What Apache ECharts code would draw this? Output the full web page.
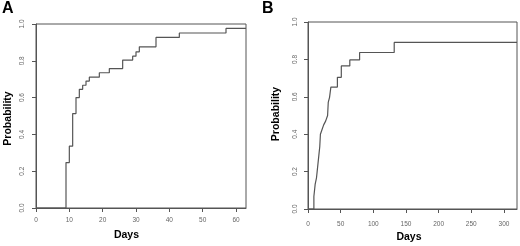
<!DOCTYPE html>
<html>
<head>
<meta charset="utf-8">
<script src="https://cdn.jsdelivr.net/npm/echarts@6/dist/echarts.min.js"></script>
<style>html,body{margin:0;padding:0;background:#fff}#c{width:520px;height:246px}</style>
</head>
<body>
<div id="c"></div>
<script>
// Panel A: cumulative probability vs days
const daysA = [0, 9, 10, 11, 12, 13, 14, 15, 16, 19, 22, 26, 29, 30, 31, 36, 43, 57, 63];
const probA = [0, 0.247, 0.336, 0.513, 0.600, 0.645, 0.667, 0.690, 0.711, 0.735, 0.758, 0.804, 0.825, 0.849, 0.876, 0.927, 0.951, 0.976, 0.976];
// Panel B
const daysB = [0, 9, 11, 13, 14, 16, 17, 18, 19, 21, 24, 27, 30, 31, 33, 35, 45, 51, 64, 79, 132, 320];
const probB = [0, 0.067, 0.133, 0.167, 0.200, 0.267, 0.300, 0.333, 0.400, 0.420, 0.450, 0.470, 0.500, 0.570, 0.597, 0.652, 0.704, 0.765, 0.797, 0.837, 0.891, 0.891];
const xTicksA = [0, 10, 20, 30, 40, 50, 60];
const xTicksB = [0, 50, 100, 150, 200, 250, 300];
const yTicks = [0.0, 0.2, 0.4, 0.6, 0.8, 1.0];
const panelLabels = ['A', 'B'];
const xTitle = 'Days';
const yTitle = 'Probability';

const lineCol = '#555';
const labCol = '#666';
const fontFam = '"Liberation Sans", Arial, sans-serif';

function xAxisCfg(gi, max, interval, margin) {
  return {
    type: 'value', gridIndex: gi, min: 0, max: max, interval: interval,
    axisLine: { show: true, onZero: false, lineStyle: { color: lineCol, width: 1 } },
    axisTick: { show: true, length: 4, lineStyle: { color: lineCol } },
    axisLabel: { show: true, color: labCol, fontSize: 6.5, fontFamily: fontFam, margin: margin,
      showMaxLabel: false, formatter: v => String(v) },
    splitLine: { show: false }
  };
}
function yAxisCfg(gi, margin) {
  return {
    type: 'value', gridIndex: gi, min: 0, max: 1, interval: 0.2,
    axisLine: { show: true, onZero: false, lineStyle: { color: lineCol, width: 1 } },
    axisTick: { show: true, length: 4, lineStyle: { color: lineCol } },
    axisLabel: { show: true, color: labCol, fontSize: 6.5, fontFamily: fontFam, margin: margin,
      rotate: 90, formatter: v => v.toFixed(1) },
    splitLine: { show: false }
  };
}

const chart = echarts.init(document.getElementById('c'), null, { renderer: 'canvas' });
chart.setOption({
  animation: false,
  backgroundColor: '#fff',
  grid: [
    { left: 36, top: 24, width: 210, height: 184, show: true, borderColor: lineCol, borderWidth: 1, backgroundColor: 'transparent' },
    { left: 308, top: 22, width: 209, height: 187, show: true, borderColor: lineCol, borderWidth: 1, backgroundColor: 'transparent' }
  ],
  xAxis: [ xAxisCfg(0, 63, 10, 9), xAxisCfg(1, 320, 50, 12) ],
  yAxis: [ yAxisCfg(0, 10), yAxisCfg(1, 9) ],
  series: [
    { type: 'line', xAxisIndex: 0, yAxisIndex: 0, step: 'end', symbol: 'none',
      lineStyle: { color: lineCol, width: 1.2 }, data: daysA.map((d, i) => [d, probA[i]]) },
    { type: 'line', xAxisIndex: 1, yAxisIndex: 1, step: 'end', symbol: 'none',
      lineStyle: { color: lineCol, width: 1.2 }, data: daysB.map((d, i) => [d, probB[i]]) }
  ],
  graphic: [
    { type: 'text', left: 2, top: 1, style: { text: panelLabels[0], font: 'bold 16px ' + fontFam, fill: '#000' } },
    { type: 'text', left: 262, top: 1, style: { text: panelLabels[1], font: 'bold 16px ' + fontFam, fill: '#000' } },
    { type: 'text', x: 126.5, y: 235, style: { text: xTitle, font: 'bold 10.5px ' + fontFam, fill: '#000', align: 'center', verticalAlign: 'middle' } },
    { type: 'text', x: 409, y: 237.5, style: { text: xTitle, font: 'bold 10.5px ' + fontFam, fill: '#000', align: 'center', verticalAlign: 'middle' } },
    { type: 'text', x: 8, y: 118.5, rotation: Math.PI / 2, style: { text: yTitle, font: 'bold 10.5px ' + fontFam, fill: '#000', align: 'center', verticalAlign: 'middle' } },
    { type: 'text', x: 276, y: 114, rotation: Math.PI / 2, style: { text: yTitle, font: 'bold 10.5px ' + fontFam, fill: '#000', align: 'center', verticalAlign: 'middle' } }
  ]
});
</script>
</body>
</html>
